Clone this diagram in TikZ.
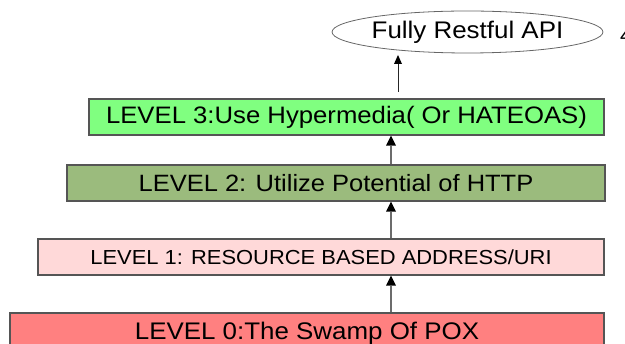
\documentclass[tikz,border=0pt]{standalone}
\usepackage{fontspec}
\setmainfont{Liberation Sans}[FakeStretch=1.08]
\usetikzlibrary{arrows.meta,shapes.geometric}
\definecolor{lvlthree}{RGB}{128,255,128}
\definecolor{lvltwo}{RGB}{155,187,125}
\definecolor{lvlone}{RGB}{255,217,217}
\definecolor{lvlzero}{RGB}{255,128,128}
\definecolor{edge}{RGB}{85,85,85}
\tikzset{
  x=1pt, y=-1pt,
  levelbox/.style={draw=edge, line width=1.3pt, rectangle, inner sep=0pt, anchor=center},
  goal/.style={draw=gray!80!black, line width=0.8pt, ellipse, inner sep=0pt,
    minimum width=259pt, minimum height=42pt},
  uparrow/.style={draw=gray!85!black, line width=1.5pt,
    -{Triangle[width=10pt,length=10pt,fill=black,line width=0pt]}},
  thinarrow/.style={draw=black!85, line width=0.9pt,
    -{Triangle[width=8pt,length=9pt,fill=black,line width=0pt]}},
}
\begin{document}
\begin{tikzpicture}
\useasboundingbox (0,0) rectangle (625,344);
\begin{scope}
\clip (0,0) rectangle (625,344);
% levels, bottom to top
\node[levelbox, fill=lvlzero, minimum width=594pt, minimum height=40pt] (l0) at (307,333)
  {\fontsize{24}{26}\selectfont LEVEL 0:The Swamp Of POX};
\node[levelbox, fill=lvlone, minimum width=566pt, minimum height=36pt] (l1) at (321,257)
  {\fontsize{20.3}{22}\selectfont LEVEL 1: RESOURCE BASED ADDRESS/URI};
\node[levelbox, fill=lvltwo, minimum width=538pt, minimum height=36pt] (l2) at (336,183)
  {\fontsize{23.6}{26}\selectfont LEVEL 2: Utilize Potential of HTTP};
\node[levelbox, fill=lvlthree, minimum width=515pt, minimum height=36pt] (l3) at (346.5,117)
  {\fontsize{23.8}{26}\selectfont LEVEL 3:Use Hypermedia( Or HATEOAS)};
% the goal
\node[goal] (api) at (467.5,32) {\fontsize{24}{26}\selectfont Fully Restful API};
\node[anchor=west, inner sep=0pt] (pg) at (620,36) {\fontsize{20}{22}\selectfont 4};
% connectors
\coordinate (ax) at (391,0);
\coordinate (start) at (398,92);
\coordinate (tip) at (398,55);
\draw[uparrow] (l0.north -| ax) -- (l1.south -| ax);
\draw[uparrow] (l1.north -| ax) -- (l2.south -| ax);
\draw[uparrow] (l2.north -| ax) -- (l3.south -| ax);
\draw[thinarrow] (start) -- (tip);
\end{scope}
\end{tikzpicture}
\end{document}
